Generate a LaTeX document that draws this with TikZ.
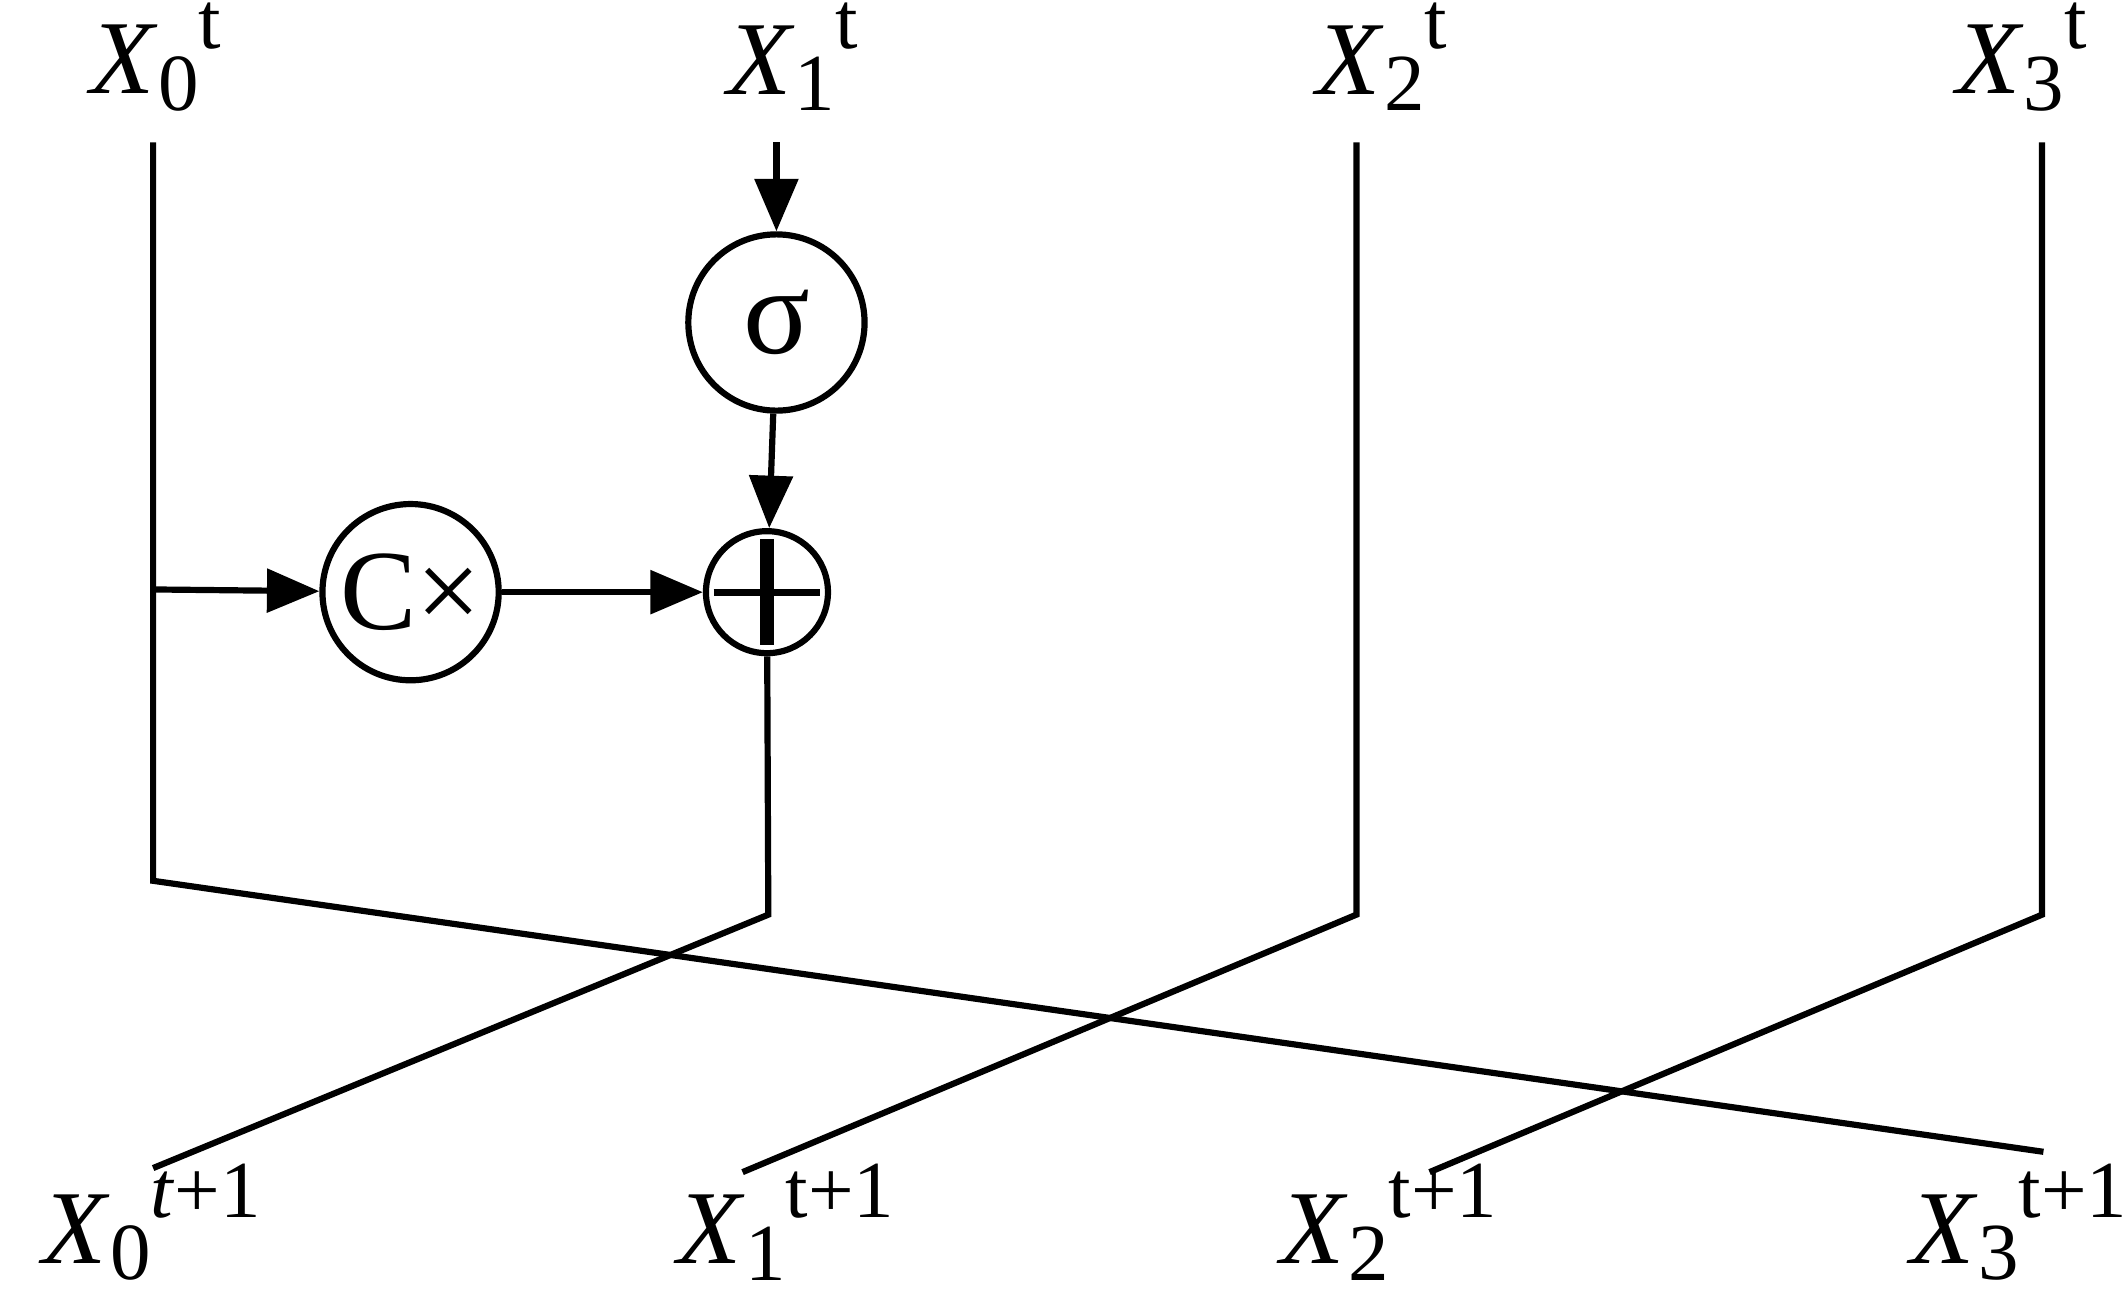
\documentclass[tikz,border=0pt]{standalone}
\usepackage{fontspec}
\setmainfont{Liberation Serif}
\usetikzlibrary{arrows.meta,calc}
\newcommand{\myvar}[2]{\textit{X}\raisebox{-0.35ex}{\fontsize{17}{18}\selectfont #1}\raisebox{0.95ex}{\fontsize{17}{18}\selectfont #2}}
\begin{document}
\begin{tikzpicture}[x=0.01cm,y=-0.01cm,
  ln/.style={line width=1.3pt},
  ar/.style={line width=1.3pt,-{Triangle[length=11pt,width=9pt]}},
  op/.style={circle,draw,line width=1.3pt,inner sep=0pt},
  lab/.style={font=\fontsize{22}{24}\selectfont,inner sep=0pt}]
\useasboundingbox (0,0) rectangle (1566,954);
\node[lab] (l0) at (115,42) {\myvar{0}{t}};
\node[lab] (l1) at (585,42) {\myvar{1}{t}};
\node[lab] (l2) at (1020,42) {\myvar{2}{t}};
\node[lab] (l3) at (1492,42) {\myvar{3}{t}};
\node[lab] (b0) at (112,902) {\myvar{0}{\textit{t}+1}};
\node[lab] (b1) at (580,902) {\myvar{1}{t+1}};
\node[lab] (b2) at (1025,902) {\myvar{2}{t+1}};
\node[lab] (b3) at (1490,902) {\myvar{3}{t+1}};
\node[op,minimum size=1.3cm] (cx) at (303,437) {\fontsize{24}{26}\selectfont C×};
\node[op,minimum size=1.3cm] (sg) at (573,238) {\fontsize{26}{28}\selectfont σ};
\node[op,minimum size=0.9cm] (pl) at (566,437) {};
\draw[line width=3pt] ($(pl.north)+(0,8)$) -- ($(pl.south)+(0,-8)$);
\draw[line width=1.5pt] ($(pl.west)+(8,0)$) -- ($(pl.east)+(-8,0)$);
\coordinate (t0) at (113,105); \coordinate (k0) at (113,650); \coordinate (e0) at (1508,850);
\coordinate (br) at (113,435);
\draw[ln] (t0) -- (k0) -- (e0);
\draw[ar] (br) -- (cx);
\draw[ar] (cx) -- (pl);
\coordinate (t1) at (573,105);
\draw[ar] (t1) -- (sg);
\draw[ar] (sg) -- (pl);
\coordinate (k1) at (567,675); \coordinate (e1) at (113,862);
\draw[ln] (pl) -- (k1) -- (e1);
\coordinate (t2) at (1001,105); \coordinate (k2) at (1001,675); \coordinate (e2) at (548,865);
\draw[ln] (t2) -- (k2) -- (e2);
\coordinate (t3) at (1507,105); \coordinate (k3) at (1507,675); \coordinate (e3) at (1055,865);
\draw[ln] (t3) -- (k3) -- (e3);
\end{tikzpicture}
\end{document}
